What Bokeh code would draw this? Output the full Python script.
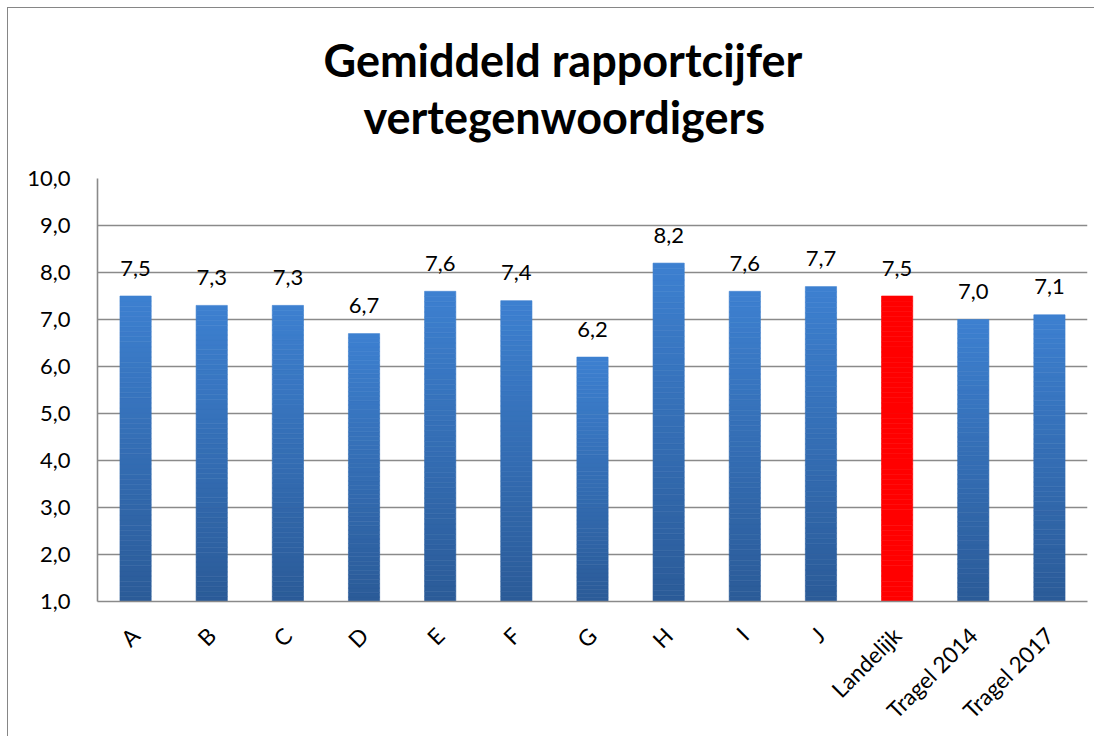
from math import pi
from bokeh.plotting import figure
from bokeh.models import Range1d, FixedTicker, Title, ColumnDataSource
from bokeh.core.properties import value
from bokeh.embed import file_html
from bokeh.resources import INLINE

# ---- data ----
categories = ["A", "B", "C", "D", "E", "F", "G", "H", "I", "J",
              "Landelijk", "Tragel 2014", "Tragel 2017"]
scores = [7.5, 7.3, 7.3, 6.7, 7.6, 7.4, 6.2, 8.2, 7.6, 7.7, 7.5, 7.0, 7.1]
highlight = "Landelijk"
y_ticks = [1, 2, 3, 4, 5, 6, 7, 8, 9, 10]
title_lines = ["Gemiddeld rapportcijfer", "vertegenwoordigers"]

FONT = "Lato"
Y0 = y_ticks[0]

# ---- gradient slices (derived from the data) ----
N = 60
top_rgb = (61, 128, 208)
bot_rgb = (43, 91, 152)
xs, bottoms, tops, colors = [], [], [], []
for c, v in zip(categories, scores):
    for k in range(N):
        b = Y0 + (v - Y0) * k / N
        t = Y0 + (v - Y0) * (k + 1) / N
        xs.append(c)
        bottoms.append(b)
        tops.append(t)
        if c == highlight:
            colors.append("#ff0000")
        else:
            f = (k + 0.5) / N
            rgb = tuple(int(round(bot_rgb[j] + (top_rgb[j] - bot_rgb[j]) * f)) for j in range(3))
            colors.append("#%02x%02x%02x" % rgb)

src = ColumnDataSource(dict(x=xs, bottom=bottoms, top=tops, color=colors))
lab = ColumnDataSource(dict(x=categories, y=scores,
                            t=[("%.1f" % v).replace(".", ",") for v in scores]))

p = figure(x_range=categories, y_range=Range1d(Y0, y_ticks[-1]),
           width=1094, height=736, output_backend="svg", toolbar_location=None,
           min_border_left=97, min_border_right=7, min_border_top=178,
           min_border_bottom=133)
p.styles = {"box-shadow": "inset 7px 7px 0 0 white, inset 8px 8px 0 0 #868686"}
p.outline_line_color = None
p.background_fill_color = "white"
p.border_fill_color = None

p.vbar(x="x", bottom="bottom", top="top", width=0.41, source=src,
       fill_color="color", line_color="color", line_width=0.6)

p.text(x="x", y="y", text="t", source=lab, text_align="center",
       text_baseline="alphabetic", y_offset=-28, text_font=value(FONT),
       text_font_size="22px", text_color="black")

# axes
p.yaxis.ticker = FixedTicker(ticks=y_ticks)
p.yaxis.major_label_overrides = {t: ("%.1f" % t).replace(".", ",") for t in y_ticks}
for ax in (p.xaxis, p.yaxis):
    ax.major_tick_line_color = None
    ax.minor_tick_line_color = None
    ax.axis_line_color = "#8a8a8a"
    ax.axis_line_width = 1.6
    ax.major_label_text_font = FONT
    ax.major_label_text_color = "black"
p.yaxis.major_label_text_font_size = "22px"
p.xaxis.major_label_text_font_size = "22.5px"
p.yaxis.major_label_standoff = 21
p.xaxis.major_label_standoff = 24
p.xaxis.major_label_orientation = pi / 4

p.xgrid.grid_line_color = None
p.ygrid.grid_line_color = "#8a8a8a"
p.ygrid.grid_line_width = 1.6

# title (two lines, centred on the whole chart)
p.title = None
t2 = Title(text=title_lines[1], align="left", offset=266, text_font=FONT,
           text_font_size="45px", text_font_style="bold", text_color="black",
           text_line_height=1.0, standoff=70)
t1 = Title(text=title_lines[0], align="left", offset=226, text_font=FONT,
           text_font_size="45px", text_font_style="bold", text_color="black",
           text_line_height=1.0, standoff=-69)
p.add_layout(t2, "above")
p.add_layout(t1, "above")

open("out.html", "w").write(file_html(p, INLINE))
